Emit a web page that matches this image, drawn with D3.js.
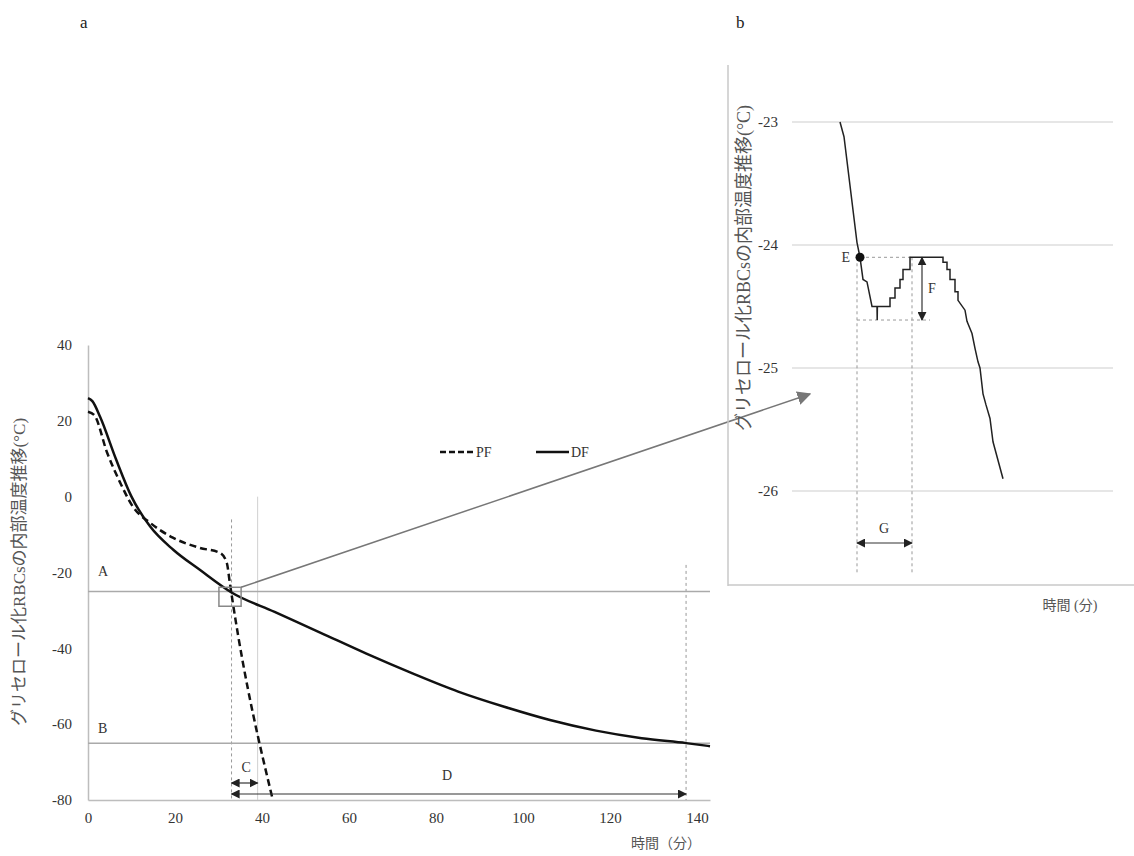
<!DOCTYPE html>
<html>
<head>
<meta charset="utf-8">
<script src="https://cdn.jsdelivr.net/npm/d3@7"></script>
<style>
  body { margin: 0; background: #fff; }
  svg text { font-family: "Liberation Serif", "Noto Sans CJK JP", serif; }
</style>
</head>
<body>
<div id="chart"></div>
<script>
// ---- data ----
// panel a : DF (solid) and PF (dashed) curves, minutes / deg C
var dfTime = [0, 1, 2.8, 6.4, 10, 14.3, 19.6, 25.7, 32.9, 42.9, 53.5, 64, 74.6, 85.1, 95.7, 106.2, 116.8, 127.3, 137.5, 143];
var dfTemp = [26, 25.2, 21, 10, 0, -7.9, -14, -19.3, -25.2, -30.4, -35.9, -41.4, -46.6, -51.4, -55.4, -58.9, -61.7, -63.7, -65, -65.8];
var pfTime = [0, 1.4, 4.4, 7.4, 10.3, 14.3, 19.5, 25.7, 30.3, 31.9, 32.6, 33.3, 42.5];
var pfTemp = [22.4, 21.6, 11.6, 3.7, -2.6, -6.9, -10.8, -13.5, -14.8, -17.4, -22.7, -28, -80];
var xTicksA = [0, 20, 40, 60, 80, 100, 120, 140];
var yTicksA = [40, 20, 0, -20, -40, -60, -80];
var lineA = -25, lineB = -65;
var tStart = 33, tPF = 39, tDF = 137.5;

// panel b : zoomed DF trace (arbitrary minute axis, no ticks)
var bTime = [5.6, 5.8, 6.45, 6.6, 6.75, 6.95, 7.2, 7.45, 7.46, 7.47, 8.1, 8.1, 8.35, 8.35, 8.6, 8.6, 8.75, 8.75, 9.1, 9.1,
             10.75, 10.75, 10.95, 10.95, 11.1, 11.1, 11.35, 11.35, 11.5, 11.5, 11.85, 11.95, 12.2, 12.35, 12.5, 12.6,
             12.75, 12.9, 13.1, 13.25, 13.75];
var bTemp = [-23, -23.12, -23.98, -24.1, -24.28, -24.3, -24.5, -24.5, -24.61, -24.5, -24.5, -24.43, -24.43, -24.35, -24.35, -24.28, -24.28, -24.2, -24.2, -24.1,
             -24.1, -24.14, -24.14, -24.2, -24.2, -24.28, -24.28, -24.38, -24.38, -24.45, -24.53, -24.62, -24.72, -24.84, -24.95, -25,
             -25.21, -25.3, -25.41, -25.6, -25.9];
var yTicksB = [-23, -24, -25, -26];
var bE = 6.6, bEval = -24.1, bPeakEnd = 9.2, bMin = -24.61;

var W = 1134, H = 856;
var svg = d3.select("#chart").append("svg")
    .attr("width", W).attr("height", H);

var grey = "#bdbdbd", txt = "#333";
var plain = function(d){ return String(d); };   // keep ascii hyphen like the original

// ================= panel a =================
var x = d3.scaleLinear().domain([0, 143]).range([88, 710]);
var y = d3.scaleLinear().domain([-80, 40]).range([800, 345]);

var gx = svg.append("g")
    .attr("transform", "translate(0," + y(-80) + ")")
    .call(d3.axisBottom(x).tickValues(xTicksA).tickFormat(plain).tickSize(0).tickPadding(12).tickSizeOuter(0));
gx.select(".domain").attr("stroke", grey).attr("stroke-width", 1.5);
gx.selectAll("text").style("font-size", "15px").attr("fill", txt);

var gy = svg.append("g")
    .attr("transform", "translate(" + x(0) + ",0)")
    .call(d3.axisLeft(y).tickValues(yTicksA).tickFormat(plain).tickSize(0).tickPadding(16).tickSizeOuter(0));
gy.select(".domain").attr("stroke", grey).attr("stroke-width", 1.5);
gy.selectAll("text").style("font-size", "15px").attr("fill", txt);

// reference guides
[[tStart, -6, "3,3", "#999"], [tPF, 0, null, "#d0d0d0"], [tDF, -18, "3,3", "#999"]].forEach(function(v){
    svg.append("line")
        .attr("x1", x(v[0])).attr("x2", x(v[0]))
        .attr("y1", y(v[1])).attr("y2", y(-80))
        .attr("stroke", v[3]).attr("stroke-width", 1)
        .attr("stroke-dasharray", v[2]);
});
[lineA, lineB].forEach(function(v){
    svg.append("line")
        .attr("x1", x(0)).attr("x2", x(143))
        .attr("y1", y(v)).attr("y2", y(v))
        .attr("stroke", "#aaa").attr("stroke-width", 1.5);
});
svg.append("text").attr("x", 98).attr("y", y(lineA) - 15).text("A")
    .style("font-size", "14px").attr("fill", txt);
svg.append("text").attr("x", 98).attr("y", y(lineB) - 10).text("B")
    .style("font-size", "14px").attr("fill", txt);

// curves
var lineGen = d3.line().curve(d3.curveMonotoneX)
    .x(function(d){ return x(d[0]); })
    .y(function(d){ return y(d[1]); });
svg.append("path")
    .datum(d3.zip(dfTime, dfTemp))
    .attr("d", lineGen)
    .attr("fill", "none").attr("stroke", "#111").attr("stroke-width", 2.5);
svg.append("path")
    .datum(d3.zip(pfTime, pfTemp))
    .attr("d", lineGen)
    .attr("fill", "none").attr("stroke", "#111").attr("stroke-width", 2.5)
    .attr("stroke-dasharray", "7,4");

// arrows
var defs = svg.append("defs");
function marker(id, color, w){
    defs.append("marker").attr("id", id)
        .attr("viewBox", "0 0 10 10").attr("refX", 9).attr("refY", 5)
        .attr("markerWidth", w).attr("markerHeight", w).attr("orient", "auto-start-reverse")
        .attr("markerUnits", "userSpaceOnUse")
        .append("path").attr("d", "M0,0L10,5L0,10z").attr("fill", color);
}
marker("ah", "#222", 9);
marker("ahg", "#777", 14);

function dArrow(x1, y1, x2, y2, w){
    svg.append("line")
        .attr("x1", x1).attr("y1", y1).attr("x2", x2).attr("y2", y2)
        .attr("stroke", "#333").attr("stroke-width", w || 1.2)
        .attr("marker-start", "url(#ah)").attr("marker-end", "url(#ah)");
}
dArrow(x(tStart), 783, x(tPF), 783);
dArrow(x(tStart), 794, x(tDF), 794);
svg.append("text").attr("x", x(tStart) + 10).attr("y", 772).text("C")
    .style("font-size", "14px").attr("fill", txt);
svg.append("text").attr("x", 447).attr("y", 780).attr("text-anchor", "middle").text("D")
    .style("font-size", "14px").attr("fill", txt);

// zoom box + pointer
var bx0 = x(30.1), bx1 = x(35.2), by0 = y(-23.9), by1 = y(-28.9);
svg.append("rect")
    .attr("x", bx0).attr("y", by0).attr("width", bx1 - bx0).attr("height", by1 - by0)
    .attr("fill", "none").attr("stroke", "#888").attr("stroke-width", 1.5);
svg.append("line")
    .attr("x1", bx1).attr("y1", by0).attr("x2", 810).attr("y2", 394)
    .attr("stroke", "#777").attr("stroke-width", 1.5)
    .attr("marker-end", "url(#ahg)");

// legend
svg.append("line").attr("x1", 440).attr("x2", 474).attr("y1", 452).attr("y2", 452)
    .attr("stroke", "#111").attr("stroke-width", 2.5).attr("stroke-dasharray", "6,3");
svg.append("text").attr("x", 476).attr("y", 457).text("PF").style("font-size", "14px").attr("fill", txt);
svg.append("line").attr("x1", 536).attr("x2", 569).attr("y1", 452).attr("y2", 452)
    .attr("stroke", "#111").attr("stroke-width", 2.5);
svg.append("text").attr("x", 571).attr("y", 457).text("DF").style("font-size", "14px").attr("fill", txt);

// axis titles
svg.append("text")
    .attr("transform", "translate(25,572) rotate(-90)")
    .attr("text-anchor", "middle")
    .style("font-size", "17px").attr("fill", "#555")
    .text("グリセロール化RBCsの内部温度推移(°C)");
svg.append("text").attr("x", 666).attr("y", 848).attr("text-anchor", "middle")
    .style("font-size", "14px").attr("fill", "#555").text("時間（分）");

svg.append("text").attr("x", 80).attr("y", 28).style("font-size", "17px").attr("fill", "#222").text("a");
svg.append("text").attr("x", 736).attr("y", 28).style("font-size", "17px").attr("fill", "#222").text("b");

// ================= panel b =================
var xb = d3.scaleLinear().domain([0, 20]).range([728, 1128]);
var yb = d3.scaleLinear().domain([-26, -23]).range([491, 122]);

// frame
svg.append("line").attr("x1", 728).attr("x2", 728).attr("y1", 65).attr("y2", 586)
    .attr("stroke", "#c8c8c8").attr("stroke-width", 1.5);
svg.append("line").attr("x1", 728).attr("x2", 1134).attr("y1", 585).attr("y2", 585)
    .attr("stroke", "#c8c8c8").attr("stroke-width", 1.5);

var gyb = svg.append("g")
    .attr("transform", "translate(792,0)")
    .call(d3.axisLeft(yb).tickValues(yTicksB).tickSize(0).tickPadding(14).tickFormat(plain));
gyb.select(".domain").remove();
gyb.selectAll("text").style("font-size", "15px").attr("fill", txt);
svg.append("g").selectAll("line")
    .data(yTicksB).enter().append("line")
    .attr("x1", 792).attr("x2", 1113)
    .attr("y1", function(d){ return yb(d); }).attr("y2", function(d){ return yb(d); })
    .attr("stroke", "#e6e6e6").attr("stroke-width", 2);

// guides
function dash(x1, y1, x2, y2){
    svg.append("line").attr("x1", x1).attr("y1", y1).attr("x2", x2).attr("y2", y2)
        .attr("stroke", "#999").attr("stroke-width", 1).attr("stroke-dasharray", "3,3");
}
dash(xb(bE), yb(bEval), xb(bPeakEnd), yb(bEval));
dash(xb(6.45), yb(bMin), xb(10.1), yb(bMin));
dash(xb(6.45), yb(bEval), xb(6.45), 573);
dash(xb(bPeakEnd), yb(bEval), xb(bPeakEnd), 573);

var lineB2 = d3.line()
    .x(function(d){ return xb(d[0]); })
    .y(function(d){ return yb(d[1]); });
svg.append("path")
    .datum(d3.zip(bTime, bTemp))
    .attr("d", lineB2)
    .attr("fill", "none").attr("stroke", "#222").attr("stroke-width", 1.5);

svg.append("circle").attr("cx", xb(bE)).attr("cy", yb(bEval)).attr("r", 4.5).attr("fill", "#111");
svg.append("text").attr("x", xb(bE) - 10).attr("y", yb(bEval) + 5).attr("text-anchor", "end")
    .style("font-size", "14px").attr("fill", txt).text("E");

dArrow(xb(9.7), yb(bEval), xb(9.7), yb(bMin), 1.2);
svg.append("text").attr("x", 928).attr("y", 293).style("font-size", "14px").attr("fill", txt).text("F");
dArrow(xb(6.45), 543, xb(bPeakEnd), 543, 1.2);
svg.append("text").attr("x", 884).attr("y", 533).attr("text-anchor", "middle")
    .style("font-size", "14px").attr("fill", txt).text("G");

svg.append("text")
    .attr("transform", "translate(750,268) rotate(-90)")
    .attr("text-anchor", "middle")
    .style("font-size", "18px").attr("fill", "#555")
    .text("グリセロール化RBCsの内部温度推移(°C)");
svg.append("text").attr("x", 1070).attr("y", 610).attr("text-anchor", "middle")
    .style("font-size", "14px").attr("fill", "#555").text("時間 (分)");
</script>
</body>
</html>
